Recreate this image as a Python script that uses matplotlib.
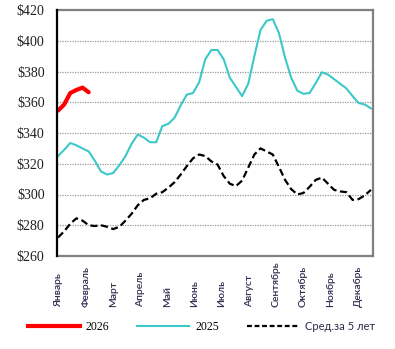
import matplotlib
matplotlib.use("Agg")
import matplotlib.pyplot as plt
from matplotlib.lines import Line2D

months = ["Январь", "Февраль", "Март", "Апрель", "Май", "Июнь", "Июль",
          "Август", "Сентябрь", "Октябрь", "Ноябрь", "Декабрь"]

y2026 = [354.5, 358.5, 366, 368, 369.5, 366.5]

y2025 = [325, 329, 333.5, 332, 330, 328, 322, 315, 313, 314, 319, 325, 333,
         339, 337, 334, 334, 344.5, 346, 350, 358, 365, 366, 373, 388, 394,
         394, 388, 376, 370, 364, 372, 390, 407, 413, 414, 405, 389, 376,
         367.5, 365.5, 366, 372.5, 379.5, 378, 375, 372, 369, 364, 359.5,
         358.5, 356]

avg5 = [272, 276, 281, 284.5, 283, 280, 279.5, 280, 279, 277.5, 279, 283,
        287.5, 293, 296.5, 297.5, 300.5, 301.5, 304.5, 308, 313, 318.5,
        323.5, 326, 325, 321.5, 319.5, 312, 307, 305.5, 309, 317.5, 326, 330,
        328, 326, 318, 309.5, 303.5, 300, 301, 305, 309.5, 311, 307, 303, 302,
        301.5, 296.5, 297, 299.5, 303]

yticks = [260, 280, 300, 320, 340, 360, 380, 400, 420]

fig = plt.figure(figsize=(3.95, 3.49), dpi=100)
ax = fig.add_axes([57/395, 93/349, 316/395, 246/349])

ax.plot(range(len(avg5)), avg5, color="black", lw=1.6, dashes=(3.2, 1.6),
        label="Сред.за 5 лет")
ax.plot(range(len(y2025)), y2025, color="#3CC8C8", lw=1.5, label="2025")
ax.plot(range(len(y2026)), y2026, color="#FF0000", lw=3.0,
        solid_capstyle="round", label="2026")

ax.set_xlim(-0.16, 51.33)
ax.set_ylim(260, 420)
ax.set_yticks(yticks)
ax.set_yticklabels([f"${v}" for v in yticks], fontfamily="Liberation Serif",
                   fontsize=10, color="#202020")
ax.tick_params(axis="y", length=0, pad=9)
ax.set_xticks([])
for v in yticks[1:-1]:
    ax.axhline(v, color="#9a9a9a", lw=0.9, ls=(0, (1, 1)), zorder=0)

for name, sp in ax.spines.items():
    sp.set_linewidth(1.6)
    sp.set_color("#808080")
ax.spines["left"].set_color("black")
ax.spines["left"].set_zorder(5)

trans = ax.get_xaxis_transform()
for k, m in enumerate(months):
    ax.text(0.15 + k * 4.43, -0.207, m, transform=trans, rotation=90,
            ha="center", va="bottom", fontsize=7.5, fontfamily="Lato",
            fontweight="semibold", color="#352a50")

handles = [Line2D([], [], color="#FF0000", lw=3.0),
           Line2D([], [], color="#3CC8C8", lw=1.5),
           Line2D([], [], color="black", lw=1.6, dashes=(2.2, 1.2))]
labels = ["2026", "2025", "Сред.за 5 лет"]
leg = fig.legend(handles, labels, loc="center",
                 bbox_to_anchor=(0.5 + 4/395, 22/349),
                 ncol=3, frameon=False, handlelength=4.4, handletextpad=0.5,
                 columnspacing=2.4, prop={"family": "Liberation Serif", "size": 8.5})
leg.get_texts()[2].set_fontfamily("Lato")
leg.get_texts()[2].set_fontsize(8)
leg.get_texts()[2].set_color("#2a2a48")

fig.savefig("out.png", dpi=100)
